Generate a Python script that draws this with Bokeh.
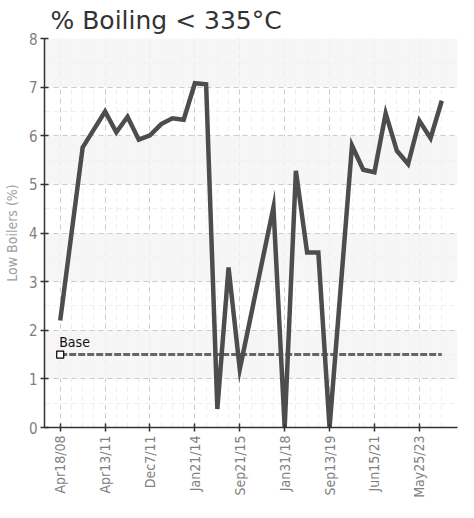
import math
from bokeh.plotting import figure
from bokeh.models import Range1d, FixedTicker
from bokeh.core.properties import value
from bokeh.embed import file_html
from bokeh.resources import INLINE

# ---- data ----
sample_index = [0, 2, 4, 5, 6, 7, 8, 9, 10, 11, 12, 13, 14, 15, 16, 19, 20,
                21, 22, 23, 24, 26, 27, 28, 29, 30, 31, 32, 33, 34]
low_boilers = [2.2, 5.76, 6.5, 6.07, 6.39, 5.92, 6.01, 6.24, 6.36, 6.33, 7.08,
               7.06, 0.38, 3.29, 1.2, 4.53, 0.0, 5.28, 3.6, 3.6, 0.0, 5.8, 5.3,
               5.25, 6.46, 5.69, 5.42, 6.31, 5.95, 6.72]
base_index = [0, 34]
base_value = [1.5, 1.5]
tick_index = [0, 4, 8, 12, 16, 20, 24, 28, 32]
tick_labels = ["Apr18/08", "Apr13/11", "Dec7/11", "Jan21/14", "Sep21/15",
               "Jan31/18", "Sep13/19", "Jun15/21", "May25/23"]
all_index = list(range(35))
title_text = "% Boiling < 335°C"

NARROW = "DejaVu Sans Condensed"

p = figure(width=458, height=502, output_backend="svg", toolbar_location=None,
           x_range=Range1d(-1.4, 35.4), y_range=Range1d(0, 8),
           min_border_left=44, min_border_right=1, min_border_top=38,
           min_border_bottom=75, background_fill_color="white",
           border_fill_color="white", outline_line_color=None)

p.title.text = title_text
p.title.text_font = "DejaVu Sans"
p.title.text_font_size = "25px"
p.title.text_font_style = "normal"
p.title.text_color = "#333333"
p.title.align = "left"
p.title.offset = 6
p.title.standoff = 7

# grids
p.xgrid.ticker = FixedTicker(ticks=tick_index, minor_ticks=all_index)
p.ygrid.ticker = FixedTicker(ticks=list(range(9)), minor_ticks=[i * 0.5 for i in range(17)])
for g in (p.xgrid, p.ygrid):
    g.grid_line_color = "#cccccc"
    g.grid_line_dash = "5 4"
    g.grid_line_width = 1
    g.minor_grid_line_color = "#efefef"
    g.minor_grid_line_dash = "5 4"
p.ygrid.band_fill_color = "#f4f4f4"
p.ygrid.band_fill_alpha = 0.8

# axes
p.xaxis.ticker = FixedTicker(ticks=tick_index, minor_ticks=[])
p.xaxis.major_label_overrides = {i: l for i, l in zip(tick_index, tick_labels)}
p.xaxis.major_label_orientation = math.pi / 2
p.yaxis.ticker = FixedTicker(ticks=list(range(9)), minor_ticks=[])
for ax in (p.xaxis, p.yaxis):
    ax.axis_line_color = "#333333"
    ax.axis_line_width = 1.5
    ax.major_tick_line_color = "#333333"
    ax.major_tick_line_width = 1.5
    ax.major_tick_in = 4
    ax.major_tick_out = 4
    ax.minor_tick_line_color = None
    ax.major_label_text_color = "#808080"
    ax.major_label_text_font = NARROW
p.xaxis.major_label_text_font_size = "14px"
p.yaxis.major_label_text_font_size = "15px"
p.xaxis.major_label_standoff = 4
p.yaxis.major_label_standoff = 3
p.yaxis.axis_label = "Low Boilers (%)"
p.yaxis.axis_label_text_font = NARROW
p.yaxis.axis_label_text_font_style = "normal"
p.yaxis.axis_label_text_font_size = "14px"
p.yaxis.axis_label_text_color = "#a0a0a0"
p.yaxis.axis_label_standoff = 6

# base line
p.line(base_index, base_value, line_color="#666666", line_width=3, line_dash="7 2")
p.scatter(base_index[:1], base_value[:1], marker="square", size=7,
          fill_color="white", line_color="black", line_width=1.2)
p.text(base_index[:1], base_value[:1], text=["Base"], x_offset=-1, y_offset=-5,
       text_font=value(NARROW), text_font_size="14px", text_color="#111111",
       text_baseline="bottom", text_align="left")

# main series
p.line(sample_index, low_boilers, line_color="#4d4d4d", line_width=4.5,
       line_join="miter")

open("out.html", "w").write(file_html(p, INLINE))
